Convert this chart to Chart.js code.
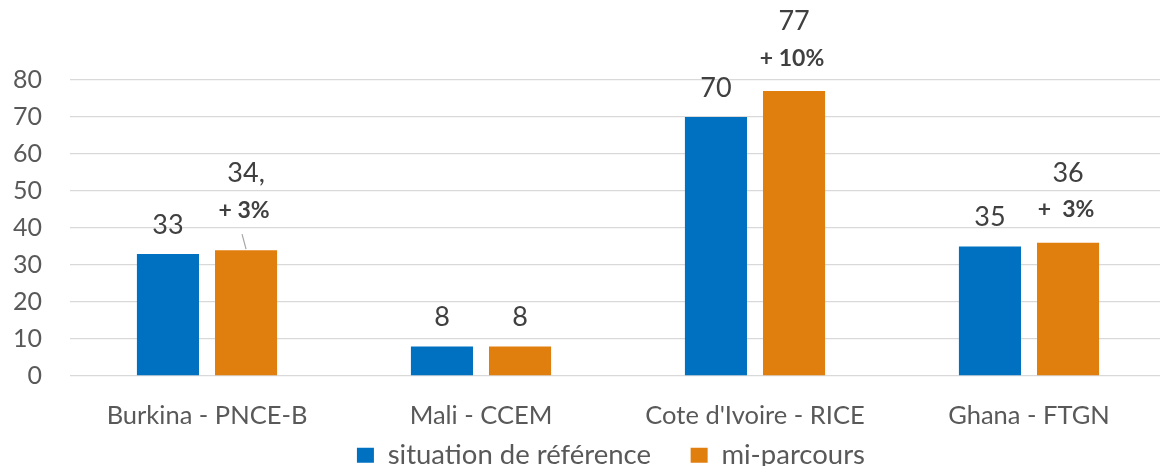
<!DOCTYPE html>
<html>
<head>
<meta charset="utf-8">
<script src="https://cdn.jsdelivr.net/npm/chart.js@4"></script>
<style>
    body { margin: 0; background: #fff; overflow: hidden; }
    .wrap { width: 1166px; height: 479px; }
</style>
</head>
<body>
<div class="wrap"><canvas id="chart"></canvas></div>
<script>
// data
const categories = ['Burkina - PNCE-B', 'Mali - CCEM', "Cote d'Ivoire - RICE", 'Ghana - FTGN'];
const reference = [33, 8, 70, 35];
const midterm = [34, 8, 77, 36];
const referenceLabels = ['33', '8', '70', '35'];
const midtermLabels = ['34,', '8', '77', '36'];
const changeLabels = ['+ 3%', '', '+ 10%', '+  3%'];
const seriesNames = ['situation de référence', 'mi-parcours'];

const FONT = 'Lato, sans-serif';
const BLUE = '#0070C0';
const ORANGE = '#E07E0E';

// the Burkina label was dragged up a bit in the original, with a leader line
const liftedLabel = 0;
const liftPx = 7;

const valueLabels = {
    id: 'valueLabels',
    afterDatasetsDraw(chart) {
        const ctx = chart.ctx;
        ctx.save();
        ctx.fillStyle = '#404040';
        ctx.textAlign = 'center';
        ctx.textBaseline = 'middle';

        chart.getDatasetMeta(0).data.forEach((bar, i) => {
            ctx.font = '27px ' + FONT;
            ctx.fillText(referenceLabels[i], bar.x, bar.y - 29);
        });

        chart.getDatasetMeta(1).data.forEach((bar, i) => {
            const lift = i === liftedLabel ? liftPx : 0;
            if (changeLabels[i]) {
                ctx.font = '27px ' + FONT;
                ctx.fillText(midtermLabels[i], bar.x, bar.y - 70 - lift);
                ctx.font = 'bold 23px ' + FONT;
                ctx.fillText(changeLabels[i], bar.x - 2, bar.y - 33 - lift);
            } else {
                ctx.font = '27px ' + FONT;
                ctx.fillText(midtermLabels[i], bar.x, bar.y - 29);
            }
            if (lift) {
                ctx.strokeStyle = '#a6a6a6';
                ctx.lineWidth = 1.2;
                ctx.beginPath();
                ctx.moveTo(bar.x - 4, bar.y - 16);
                ctx.lineTo(bar.x, bar.y - 1);
                ctx.stroke();
            }
        });
        ctx.restore();
    }
};

new Chart(document.getElementById('chart'), {
    type: 'bar',
    data: {
        labels: categories,
        datasets: [
            { label: seriesNames[0], data: reference, backgroundColor: BLUE },
            { label: seriesNames[1], data: midterm, backgroundColor: ORANGE }
        ]
    },
    options: {
        responsive: true,
        maintainAspectRatio: false,
        animation: false,
        categoryPercentage: 0.57,
        barPercentage: 0.795,
        layout: {
            padding: { top: 80, bottom: 0, left: 0, right: 0 }
        },
        plugins: {
            legend: {
                position: 'bottom',
                fullSize: false,
                labels: {
                    color: '#595959',
                    font: { family: FONT, size: 27.5 },
                    boxWidth: 17,
                    boxHeight: 15,
                    padding: 11.5,
                    // wider gap between the two entries without making the legend taller
                    generateLabels(chart) {
                        const items = Chart.defaults.plugins.legend.labels.generateLabels(chart);
                        items[0].text += '    ';
                        items[1].text += '  ';
                        return items;
                    }
                }
            },
            tooltip: { enabled: false }
        },
        scales: {
            x: {
                grid: { display: false, drawTicks: false },
                border: { display: false },
                ticks: {
                    color: '#595959',
                    font: { family: FONT, size: 25.5 },
                    padding: 24
                },
                afterFit(scale) { scale.height = 54; }
            },
            y: {
                min: 0,
                max: 80,
                grid: { color: '#d9d9d9', lineWidth: 1.3, drawTicks: false },
                border: { display: false },
                ticks: {
                    stepSize: 10,
                    color: '#595959',
                    font: { family: FONT, size: 25 },
                    padding: 28
                },
                afterFit(scale) { scale.width = 70; }
            }
        }
    },
    plugins: [valueLabels]
});
</script>
</body>
</html>
